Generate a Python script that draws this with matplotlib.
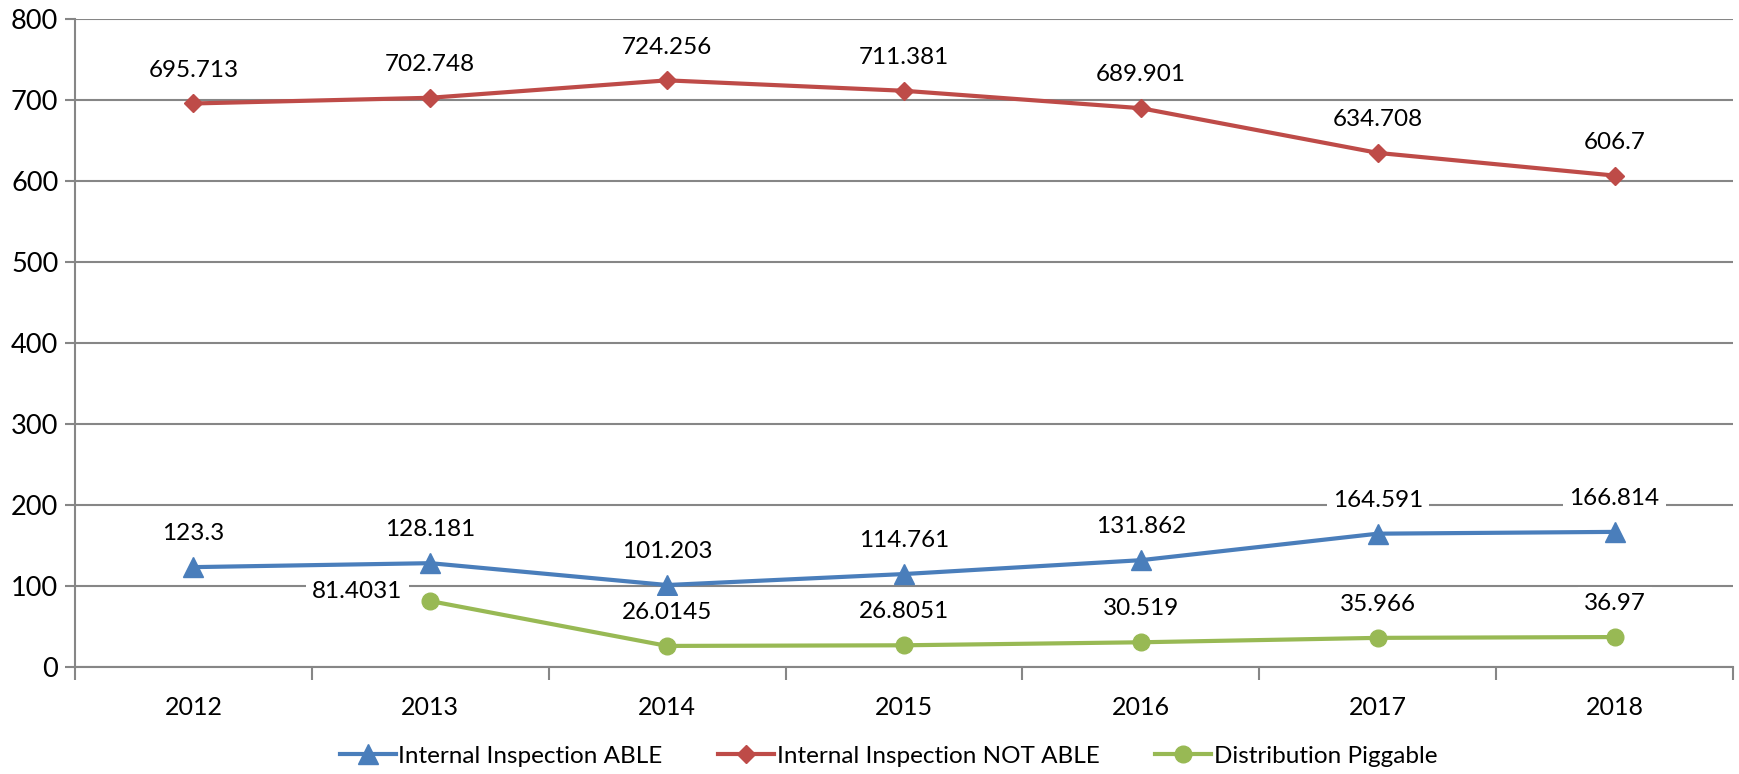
import matplotlib
matplotlib.use("Agg")
import matplotlib.pyplot as plt

years = ["2012", "2013", "2014", "2015", "2016", "2017", "2018"]
able = [123.3, 128.181, 101.203, 114.761, 131.862, 164.591, 166.814]
not_able = [695.713, 702.748, 724.256, 711.381, 689.901, 634.708, 606.7]
piggable = [None, 81.4031, 26.0145, 26.8051, 30.519, 35.966, 36.97]

able_labels = ["123.3", "128.181", "101.203", "114.761", "131.862", "164.591", "166.814"]
not_able_labels = ["695.713", "702.748", "724.256", "711.381", "689.901", "634.708", "606.7"]
piggable_labels = [None, "81.4031", "26.0145", "26.8051", "30.519", "35.966", "36.97"]

plt.rcParams["font.family"] = ["Lato", "DejaVu Sans"]

fig = plt.figure(figsize=(17.39, 7.74), dpi=100)
ax = fig.add_axes([75 / 1739, 1 - 667 / 774, (1733 - 75) / 1739, (667 - 19) / 774])

grid_c = "#868686"
x = list(range(len(years)))

series = [
    ("Internal Inspection ABLE", able, able_labels, "#4A7EBB", "^", 14),
    ("Internal Inspection NOT ABLE", not_able, not_able_labels, "#BE4B48", "D", 9),
    ("Distribution Piggable", piggable, piggable_labels, "#98B954", "o", 12),
]

for name, vals, labs, color, marker, ms in series:
    xs = [i for i, v in zip(x, vals) if v is not None]
    ys = [v for v in vals if v is not None]
    ax.plot(xs, ys, color=color, lw=3, marker=marker, markersize=ms,
            label=name, zorder=3)
    for i, v, t in zip(x, vals, labs):
        if v is None:
            continue
        # the first piggable label sits to the left so it clears the blue line
        if t == "81.4031":
            off, ha = (-20, 7), "right"
        else:
            off, ha = (0, 24), "center"
        ax.annotate(t, (i, v), xytext=off, textcoords="offset points",
                    ha=ha, va="center", fontsize=17.5, color="black",
                    bbox=dict(boxstyle="square,pad=0.25", fc="white", ec="none"),
                    zorder=4)

ax.set_ylim(0, 800)
ax.set_xlim(-0.5, len(years) - 0.5)
ax.set_yticks(range(0, 801, 100))
ax.tick_params(axis="y", length=7, width=1.5, color=grid_c, labelsize=19.5, pad=5)
ax.yaxis.grid(True, color=grid_c, lw=1.5, zorder=1)
ax.set_axisbelow(True)

ax.set_xticks([i + 0.5 for i in range(-1, len(years))])
ax.set_xticklabels([])
ax.set_xticks(x, minor=True)
ax.set_xticklabels(years, minor=True)
ax.tick_params(axis="x", which="major", length=9, width=1.5, color=grid_c)
ax.tick_params(axis="x", which="minor", length=0, labelsize=18, pad=21)

for s in ["top", "right"]:
    ax.spines[s].set_visible(False)
for s in ["left", "bottom"]:
    ax.spines[s].set_color(grid_c)
    ax.spines[s].set_linewidth(1.5)

fig.legend(loc="center", bbox_to_anchor=(0.511, 1 - 756 / 774), ncol=3,
           frameon=False, prop={"size": 17.5},
           handlelength=2.3, columnspacing=2.3, handletextpad=0.1)

fig.savefig("out.png", dpi=100)
